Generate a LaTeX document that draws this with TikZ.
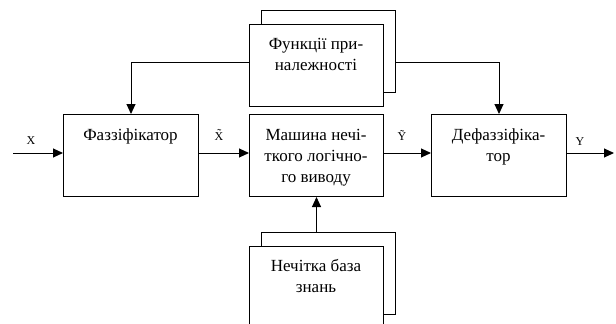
\documentclass[tikz,border=0pt]{standalone}
\usepackage{fontspec}
\setmainfont{Liberation Serif}
\usetikzlibrary{arrows.meta}
\begin{document}
\begin{tikzpicture}[x=1pt,y=-1pt,
  box/.style={draw, line width=1pt, fill=white, inner sep=0pt, anchor=north west},
  btext/.style={font=\fontsize{17}{21}\selectfont, align=center, anchor=north, inner sep=0pt},
  lab/.style={font=\fontsize{12}{14}\selectfont, inner sep=0pt, anchor=base},
  conn/.style={line width=1pt, -{Triangle[length=10pt,width=9pt]}}]
\useasboundingbox (0,0) rectangle (616,324);
\clip (0,0) rectangle (616,324);
% membership functions (stacked)
\node[box, minimum width=134pt, minimum height=82pt] (funcb) at (261,10) {};
\node[box, minimum width=134pt, minimum height=82pt] (funcf) at (249,24) {};
\node[btext] (funct) at (316,34.3) {\strut Функції при-\\належності};
% main row
\node[box, minimum width=135pt, minimum height=82pt] (fazz) at (63,114) {};
\node[btext] (fazzt) at (130.5,125.3) {\strut Фаззіфікатор};
\node[box, minimum width=134pt, minimum height=82pt] (mash) at (249,114) {};
\node[btext] (masht) at (316,125.3) {\strut Машина нечі-\\ткого логічно-\\го виводу};
\node[box, minimum width=135pt, minimum height=82pt] (defz) at (431,114) {};
\node[btext] (defzt) at (498.5,125.3) {\strut Дефаззіфіка-\\тор};
% knowledge base (stacked)
\node[box, minimum width=134pt, minimum height=82pt] (nechb) at (261,232) {};
\node[box, minimum width=134pt, minimum height=90pt] (nechf) at (249,246) {};
\node[btext] (necht) at (316,256.3) {\strut Нечітка база\\знань};
% connectors
\coordinate (xin) at (13,153);
\coordinate (yout) at (614,153);
\coordinate (fy) at (0,62);
\draw[conn] (xin) -- (xin -| fazz.west);
\draw[conn] (fazz.east |- xin) -- (mash.west |- xin);
\draw[conn] (mash.east |- xin) -- (defz.west |- xin);
\draw[conn] (defz.east |- yout) -- (yout);
\draw[conn] (funcf.west |- fy) -| (fazz.north);
\draw[conn] (funcb.east |- fy) -| (defz.north);
\draw[conn] (mash.south |- nechb.north) -- (mash.south);
% labels
\node[lab] (lx) at (31,144) {X};
\node[lab] (lxt) at (219,140) {\~{X}};
\node[lab] (lyt) at (402,140) {\~{Y}};
\node[lab] (ly) at (580,145) {Y};
\end{tikzpicture}
\end{document}
